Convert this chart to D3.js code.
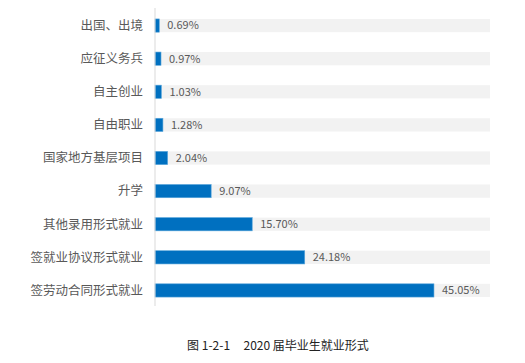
<html>
<head>
<meta charset="utf-8">
<title>2020 届毕业生就业形式</title>
<script src="https://cdnjs.cloudflare.com/ajax/libs/d3/7.8.5/d3.min.js"></script>
<style>
body { margin:0; background:#fff; }
text { font-family: "Noto Sans CJK SC", "Microsoft YaHei", sans-serif; }
</style>
</head>
<body>
<div id="chart"></div>
<script>
var categories = ['出国、出境','应征义务兵','自主创业','自由职业','国家地方基层项目','升学','其他录用形式就业','签就业协议形式就业','签劳动合同形式就业'];
var values = [0.69, 0.97, 1.03, 1.28, 2.04, 9.07, 15.70, 24.18, 45.05];
var bgMax = 54.1;
var caption = '图 1-2-1\u00a0\u00a0\u00a0\u00a0\u00a02020 届毕业生就业形式';

var width = 525, height = 363;
var svg = d3.select('#chart').append('svg')
  .attr('width', width).attr('height', height);

var x = d3.scaleLinear().domain([0, bgMax]).range([155, 490]);
var y = d3.scaleBand().domain(categories).range([9, 307]).paddingInner(0.6).paddingOuter(0.3);

var row = svg.selectAll('g.row').data(categories).enter().append('g')
  .attr('class', 'row');

row.append('rect')
  .attr('x', x(0)).attr('y', function(d){ return y(d); })
  .attr('width', x(bgMax) - x(0)).attr('height', y.bandwidth())
  .attr('fill', '#f2f2f2');

row.append('rect')
  .attr('x', x(0)).attr('y', function(d){ return y(d); })
  .attr('width', function(d, i){ return x(values[i]) - x(0); })
  .attr('height', y.bandwidth())
  .attr('fill', '#0070c0')
  .attr('stroke', '#5aa7dc').attr('stroke-width', 0.6);

row.append('text')
  .attr('x', 143).attr('y', function(d){ return y(d) + y.bandwidth()/2; })
  .attr('dy', '0.35em').attr('text-anchor', 'end')
  .attr('font-size', 12.5).attr('fill', '#595959')
  .text(function(d){ return d; });

row.append('text')
  .attr('x', function(d, i){ return x(values[i]) + 8; })
  .attr('y', function(d){ return y(d) + y.bandwidth()/2; })
  .attr('dy', '0.35em')
  .attr('font-size', 11).attr('fill', '#595959')
  .text(function(d, i){ return values[i].toFixed(2) + '%'; });

svg.append('line')
  .attr('x1', x(0)).attr('x2', x(0)).attr('y1', 8).attr('y2', 306)
  .attr('stroke', '#d9d9d9').attr('stroke-width', 1);

svg.append('text')
  .attr('x', 278).attr('y', 346).attr('dy', '0.35em')
  .attr('text-anchor', 'middle').attr('font-size', 12).attr('fill', '#222')
  .text(caption);
</script>
</body>
</html>
